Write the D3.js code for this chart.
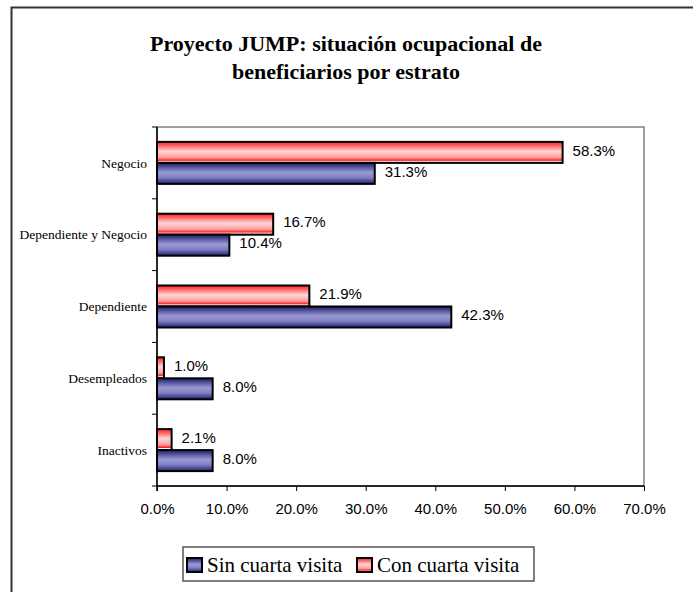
<!DOCTYPE html>
<html>
<head>
<meta charset="utf-8">
<script src="https://cdn.jsdelivr.net/npm/d3@7"></script>
<style>
  body { margin: 0; background: #fff; }
  svg { display: block; }
</style>
</head>
<body>
<svg width="693" height="592"></svg>
<script>
// data
var categories = ["Negocio", "Dependiente y Negocio", "Dependiente", "Desempleados", "Inactivos"];
var sinCuarta = [31.3, 10.4, 42.3, 8.0, 8.0];
var conCuarta = [58.3, 16.7, 21.9, 1.0, 2.1];
var xTicks = [0, 10, 20, 30, 40, 50, 60, 70];
var seriesNames = ["Sin cuarta visita", "Con cuarta visita"];

var svg = d3.select("svg");
var serif = "'Liberation Serif', 'Times New Roman', serif";
var sans = "'Liberation Sans', Arial, sans-serif";

var defs = svg.append("defs");
function grad(id, stops) {
    var g = defs.append("linearGradient").attr("id", id)
        .attr("x1", 0).attr("y1", 0).attr("x2", 0).attr("y2", 1);
    stops.forEach(function(s) {
        g.append("stop").attr("offset", s[0]).attr("stop-color", s[1]);
    });
}
grad("gRed", [["0%", "#ff1a1a"], ["45%", "#ffd6d6"], ["75%", "#ff9a9a"], ["88%", "#ff2020"], ["92%", "#ffffff"], ["100%", "#ff3030"]]);
grad("gBlue", [["0%", "#1c1c6a"], ["45%", "#9a9ad6"], ["70%", "#7e7ec4"], ["100%", "#20206e"]]);

// outer frame (only left and top visible)
svg.append("path").attr("d", "M11.5,592 V7.5 H693")
    .attr("fill", "none").attr("stroke", "#333").attr("stroke-width", 2);

// title
var title = svg.append("text").attr("text-anchor", "middle")
    .style("font-family", serif).style("font-weight", "bold").style("font-size", "22px");
title.append("tspan").attr("x", 346).attr("y", 51).text("Proyecto JUMP: situación ocupacional de");
title.append("tspan").attr("x", 346).attr("y", 79).text("beneficiarios por estrato");

var pLeft = 157, pRight = 644, pTop = 127, pBottom = 486;

var x = d3.scaleLinear().domain([0, 70]).range([pLeft, pRight]);
var y = d3.scaleBand().domain(categories).range([pTop, pBottom]);
var barH = 21;

// plot border
svg.append("rect").attr("x", pLeft).attr("y", pTop)
    .attr("width", pRight - pLeft).attr("height", pBottom - pTop)
    .attr("fill", "none").attr("stroke", "#808080").attr("stroke-width", 1.5);

// bars
var rows = categories.map(function(c, i) {
    return {cat: c, sin: sinCuarta[i], con: conCuarta[i]};
});
var g = svg.append("g");
rows.forEach(function(d) {
    var c = y(d.cat) + y.bandwidth() / 2;
    var yCon = c - barH, ySin = c;
    g.append("rect").attr("x", x(0)).attr("y", yCon)
        .attr("width", x(d.con) - x(0)).attr("height", barH)
        .attr("fill", "url(#gRed)").attr("stroke", "#000").attr("stroke-width", 2);
    g.append("rect").attr("x", x(0)).attr("y", ySin)
        .attr("width", x(d.sin) - x(0)).attr("height", barH)
        .attr("fill", "url(#gBlue)").attr("stroke", "#000").attr("stroke-width", 2);
    g.append("text").attr("x", x(d.con) + 10).attr("y", yCon + barH / 2 - 2)
        .attr("dy", "0.35em").style("font-family", sans).style("font-size", "15px")
        .text(d.con.toFixed(1) + "%");
    g.append("text").attr("x", x(d.sin) + 10).attr("y", ySin + barH / 2 - 2)
        .attr("dy", "0.35em").style("font-family", sans).style("font-size", "15px")
        .text(d.sin.toFixed(1) + "%");
});

// x axis
var xAxis = svg.append("g").attr("transform", "translate(0," + pBottom + ")")
    .call(d3.axisBottom(x).tickValues(xTicks).tickSize(5).tickPadding(12)
        .tickFormat(function(v) { return v.toFixed(1) + "%"; }));
xAxis.select(".domain").attr("d", "M" + pLeft + ",0H" + pRight).attr("stroke", "#000").attr("stroke-width", 1.5);
xAxis.selectAll("text").style("font-family", sans).style("font-size", "15px").attr("fill", "#000");

// y axis
var yAxis = svg.append("g");
yAxis.append("line").attr("x1", pLeft).attr("x2", pLeft).attr("y1", pTop).attr("y2", pBottom + 5)
    .attr("stroke", "#000").attr("stroke-width", 1.5);
d3.range(categories.length + 1).forEach(function(i) {
    var yy = pTop + i * y.step();
    yAxis.append("line").attr("x1", pLeft - 5).attr("x2", pLeft).attr("y1", yy).attr("y2", yy)
        .attr("stroke", "#000").attr("stroke-width", 1);
});
yAxis.selectAll("text.cat").data(categories).enter().append("text")
    .attr("class", "cat")
    .attr("x", pLeft - 10).attr("y", function(d) { return y(d) + y.bandwidth() / 2; })
    .attr("dy", "0.35em").attr("text-anchor", "end")
    .style("font-family", serif).style("font-size", "13.5px")
    .text(function(d) { return d; });

// legend
var lg = svg.append("g");
lg.append("rect").attr("x", 183).attr("y", 547).attr("width", 351).attr("height", 34)
    .attr("fill", "#fff").attr("stroke", "#555").attr("stroke-width", 1.5);
var legendItems = [{name: seriesNames[0], fill: "url(#gBlue)", x: 187}, {name: seriesNames[1], fill: "url(#gRed)", x: 357}];
legendItems.forEach(function(it) {
    lg.append("rect").attr("x", it.x).attr("y", 558).attr("width", 15).attr("height", 14)
        .attr("fill", it.fill).attr("stroke", "#000").attr("stroke-width", 2);
    lg.append("text").attr("x", it.x + 20).attr("y", 565).attr("dy", "0.35em")
        .style("font-family", serif).style("font-size", "21px").text(it.name);
});
</script>
</body>
</html>
